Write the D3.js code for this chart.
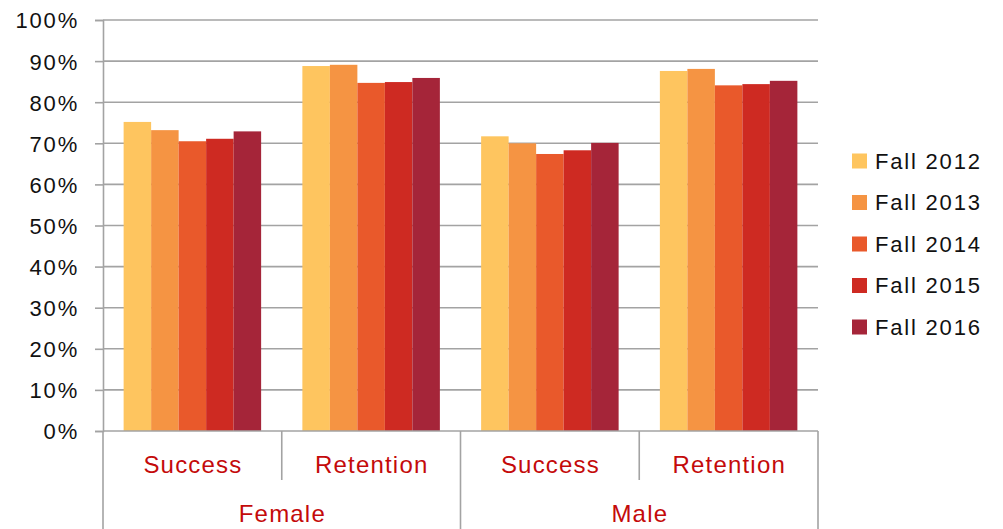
<!DOCTYPE html>
<html>
<head>
<meta charset="utf-8">
<script src="https://cdn.jsdelivr.net/npm/d3@7"></script>
<style>
  html, body { margin: 0; padding: 0; background: #fff; }
  svg { display: block; }
</style>
</head>
<body>
<svg id="chart" width="1003" height="529"></svg>
<script>
const groups = ["Female", "Male"];
const measures = ["Success", "Retention"];
const years = ["Fall 2012", "Fall 2013", "Fall 2014", "Fall 2015", "Fall 2016"];
const colors = ["#FEC55F", "#F59443", "#E9592B", "#CE2A22", "#A52539"];
const femaleSuccess = [0.752, 0.732, 0.705, 0.711, 0.729];
const femaleRetention = [0.888, 0.891, 0.847, 0.849, 0.859];
const maleSuccess = [0.717, 0.700, 0.674, 0.683, 0.701];
const maleRetention = [0.876, 0.881, 0.841, 0.844, 0.852];
const yTicks = [0, 0.1, 0.2, 0.3, 0.4, 0.5, 0.6, 0.7, 0.8, 0.9, 1.0];

(function () {
const rows = [
  { group: "Female", measure: "Success", values: femaleSuccess },
  { group: "Female", measure: "Retention", values: femaleRetention },
  { group: "Male", measure: "Success", values: maleSuccess },
  { group: "Male", measure: "Retention", values: maleRetention }
];

const svg = d3.select("#chart");
const mLeft = 103, mRight = 818, mTop = 20, mBottom = 431;
const font = "'Liberation Sans', Arial, Helvetica, sans-serif";
const gridColor = "#a3a3a3";

const y = d3.scaleLinear().domain([0, 1]).range([mBottom, mTop]);
const x0 = d3.scaleBand().domain(rows.map(r => r.group + "|" + r.measure)).range([mLeft, mRight]).padding(0);
const x1 = d3.scaleBand().domain(years).range([0, x0.bandwidth()]).paddingInner(0).paddingOuter(0.75);
const xg = d3.scaleBand().domain(groups).range([mLeft, mRight]).padding(0);

// gridlines
svg.append("g").selectAll("line").data(yTicks.filter(t => t > 0)).join("line")
  .attr("x1", mLeft).attr("x2", mRight)
  .attr("y1", d => y(d)).attr("y2", d => y(d))
  .attr("stroke", gridColor).attr("stroke-width", 1.6);

// y axis
const yAxis = d3.axisLeft(y).tickValues(yTicks).tickFormat(d3.format(".0%")).tickSize(8).tickPadding(16);
const ya = svg.append("g").attr("transform", `translate(${mLeft},0)`).call(yAxis);
ya.select(".domain").attr("stroke", gridColor).attr("stroke-width", 1.6);
ya.selectAll(".tick line").attr("stroke", gridColor).attr("stroke-width", 1.6);
ya.selectAll(".tick text")
  .attr("fill", "#111").attr("font-family", font).attr("font-size", 22)
  .attr("letter-spacing", "1.8px").attr("dy", "0.36em").attr("x", -24);

// bars
const cat = svg.append("g").selectAll("g").data(rows).join("g")
  .attr("transform", d => `translate(${x0(d.group + "|" + d.measure)},0)`);
cat.selectAll("rect").data(d => d.values.map((v, i) => ({ v, year: years[i], i }))).join("rect")
  .attr("x", d => x1(d.year)).attr("width", x1.bandwidth())
  .attr("y", d => y(d.v)).attr("height", d => y(0) - y(d.v))
  .attr("fill", d => colors[d.i]);

// x axis line
svg.append("line").attr("x1", mLeft).attr("x2", mRight).attr("y1", mBottom).attr("y2", mBottom)
  .attr("stroke", gridColor).attr("stroke-width", 1.6);

// separators
const outerX = [mLeft].concat(groups.map(g => xg(g) + xg.bandwidth()));
svg.append("g").selectAll("line").data(outerX).join("line")
  .attr("x1", d => d).attr("x2", d => d).attr("y1", mBottom).attr("y2", 529)
  .attr("stroke", gridColor).attr("stroke-width", 1.6);
const innerX = groups.map(g => xg(g) + xg.bandwidth() / 2);
svg.append("g").selectAll("line").data(innerX).join("line")
  .attr("x1", d => d).attr("x2", d => d).attr("y1", mBottom).attr("y2", 480)
  .attr("stroke", gridColor).attr("stroke-width", 1.6);

// measure labels
svg.append("g").selectAll("text").data(rows).join("text")
  .attr("x", d => x0(d.group + "|" + d.measure) + x0.bandwidth() / 2 + 0.6)
  .attr("y", 473)
  .attr("text-anchor", "middle")
  .attr("fill", "#C40A0A").attr("font-family", font).attr("font-size", 24)
  .attr("letter-spacing", "1.2px")
  .text(d => d.measure);

// group labels
svg.append("g").selectAll("text").data(groups).join("text")
  .attr("x", d => xg(d) + xg.bandwidth() / 2 + 0.6)
  .attr("y", 522)
  .attr("text-anchor", "middle")
  .attr("fill", "#C40A0A").attr("font-family", font).attr("font-size", 24)
  .attr("letter-spacing", "1.2px")
  .text(d => d);

// legend
const leg = svg.append("g").selectAll("g").data(years).join("g")
  .attr("transform", (d, i) => `translate(852,${161 + i * 41.5})`);
leg.append("rect").attr("x", 0).attr("y", -7.5).attr("width", 15).attr("height", 15)
  .attr("fill", (d, i) => colors[i]);
leg.append("text").attr("x", 23).attr("y", 7.8)
  .attr("fill", "#111").attr("font-family", font).attr("font-size", 22)
  .attr("letter-spacing", "1.8px")
  .text(d => d);
})();
</script>
</body>
</html>
